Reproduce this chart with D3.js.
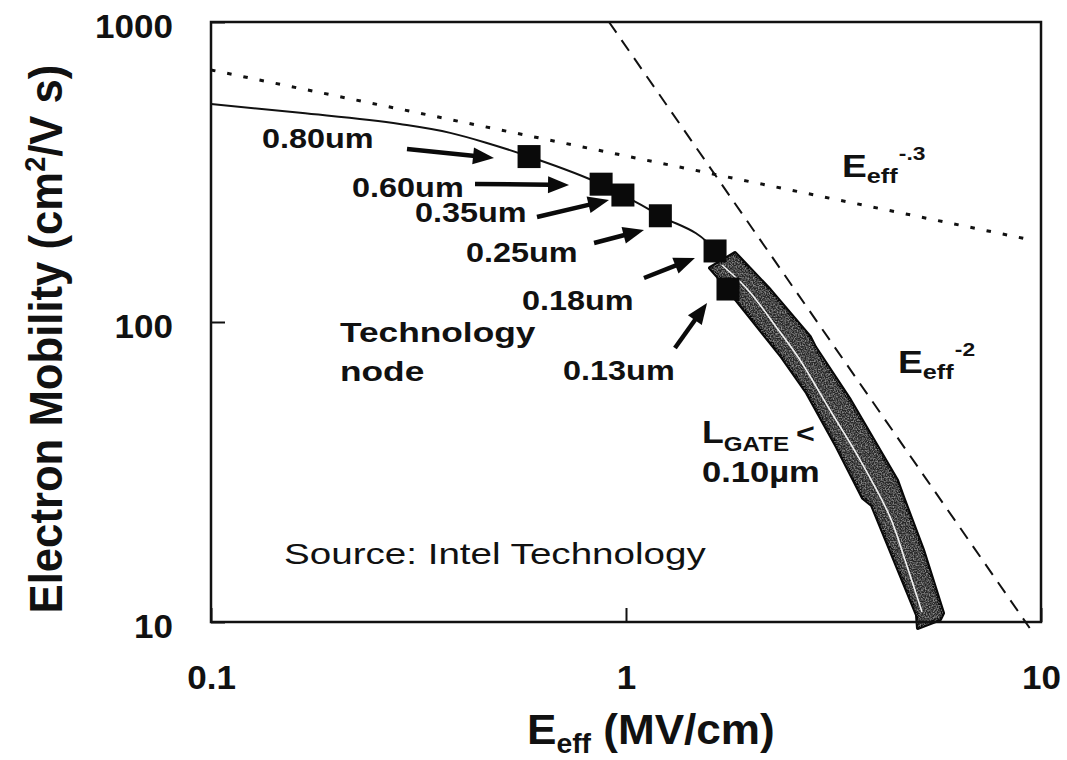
<!DOCTYPE html>
<html>
<head>
<meta charset="utf-8">
<script src="https://cdn.jsdelivr.net/npm/d3@7"></script>
<style>
  html, body { margin: 0; padding: 0; background: #fff; }
  svg { display: block; }
  text { font-family: "Liberation Sans", Arial, Helvetica, sans-serif; fill: #111; }
</style>
</head>
<body>
<svg id="chart" width="1067" height="760">
  <defs>
    <!-- light speckle used to texture the dark L_GATE band -->
    <filter id="speckle" x="0" y="0" width="100%" height="100%">
      <feTurbulence type="fractalNoise" baseFrequency="0.75" numOctaves="1" seed="7" result="noise"/>
      <feColorMatrix in="noise" type="matrix"
        values="0 0 0 0 1  0 0 0 0 1  0 0 0 0 1  3.2 0 0 0 -1.25" result="spots"/>
      <feComposite in="spots" in2="SourceAlpha" operator="in"/>
    </filter>
  </defs>
</svg>
<script>
// ---- Technology nodes (effective field in MV/cm, electron mobility in cm²/V·s)
const nodeLabels   = ["0.80um", "0.60um", "0.35um", "0.25um", "0.18um", "0.13um"];
const nodeField    = [0.584, 0.871, 0.983, 1.21, 1.639, 1.761];
const nodeMobility = [356, 288, 265, 226, 172.5, 128.8];

// where each node label sits (start of text, baseline)
const labelField    = [0.1327, 0.2187, 0.3101, 0.4116, 0.5615, 0.7052];
const labelMobility = [380, 261, 215.4, 158.5, 109.6, 64.1];

// arrows from each label toward its node
const arrowTailField    = [0.2967, 0.4327, 0.6103, 0.8375, 1.105, 1.312];
const arrowTailMobility = [377.3, 288.4, 223.9, 183.4, 140.2, 81.9];
const arrowHeadField    = [0.4808, 0.7290, 0.910, 1.105, 1.466, 1.568];
const arrowHeadMobility = [352.1, 286.2, 255.1, 202.6, 163.5, 115.7];

// measured mobility curve through the nodes
const curveField    = [0.1, 0.164, 0.285, 0.377, 0.46, 0.584, 0.871, 0.983, 1.21, 1.639, 1.70];
const curveMobility = [533, 498, 457, 427, 396, 356, 288, 265, 226, 172.5, 160];

// phonon-limited asymptote (~E^-0.3) and surface-roughness asymptote (~E^-2)
const phononField    = [0.1, 9.5];
const phononMobility = [692, 187.6];
const roughField     = [0.91, 9.39];
const roughMobility  = [1000, 9.55];

// L_GATE < 0.10 µm band: upper (right) edge and lower (left) edge, top to bottom
const bandUpperField    = [1.831, 2.223, 2.776, 2.854, 3.465, 4.498, 4.651, 5.196, 5.807, 5.71, 5.053];
const bandUpperMobility = [169.8, 127.9, 89.1, 82.5, 55.0, 29.7, 26.1, 17.4, 10.7, 10.2, 9.55];
const bandLowerField    = [1.594, 1.666, 1.99, 2.376, 2.731, 3.224, 3.725, 3.915, 5.025];
const bandLowerMobility = [151.4, 141.3, 103.9, 76.4, 58.0, 38.3, 25.9, 24.5, 10.55];
// light trace running inside the band
const bandCoreField    = [1.703, 1.968, 2.33, 2.626, 3.101, 3.664, 4.327, 4.702, 5.168];
const bandCoreMobility = [154.9, 127.9, 94.0, 74.7, 50.9, 34.7, 22.4, 16.1, 10.8];

// axis ticks
const xMajorTicks = [0.1, 1, 10];
const xTickLabels = ["0.1", "1", "10"];
const yMajorTicks = [10, 100, 1000];
const yTickLabels = ["10", "100", "1000"];

// ---------------------------------------------------------------------------
const svg = d3.select("#chart");
const x = d3.scaleLog().domain([0.1, 10]).range([211, 1041]);
const y = d3.scaleLog().domain([10, 1000]).range([622, 22]);

const pts = (fs, ms) => fs.map((f, i) => [x(f), y(ms[i])]);
const line = d3.line();

// stretch text horizontally (the figure's lettering is wide)
function widen(sel, k) {
  sel.each(function () {
    const n = this.getComputedTextLength();
    d3.select(this).attr("textLength", n * k).attr("lengthAdjust", "spacingAndGlyphs");
  });
  return sel;
}

// ---- asymptotes
svg.append("path")
  .attr("d", line(pts(phononField, phononMobility)))
  .attr("fill", "none").attr("stroke", "#111").attr("stroke-width", 3)
  .attr("stroke-dasharray", "4.5 12");

svg.append("path")
  .attr("d", line(pts(roughField, roughMobility)))
  .attr("fill", "none").attr("stroke", "#111").attr("stroke-width", 2)
  .attr("stroke-dasharray", "13 9");

// ---- L_GATE band
const bandPoly = pts(bandUpperField, bandUpperMobility)
  .concat(pts(bandLowerField, bandLowerMobility).reverse());
const bandPath = line(bandPoly) + "Z";
svg.append("path")
  .attr("d", bandPath)
  .attr("fill", "#262626").attr("stroke", "#080808").attr("stroke-width", 4)
  .attr("stroke-linejoin", "round");
svg.append("path")
  .attr("d", bandPath)
  .attr("fill", "#fff").attr("opacity", 0.45).attr("filter", "url(#speckle)");
svg.append("path")
  .attr("d", d3.line().curve(d3.curveCatmullRom)(pts(bandCoreField, bandCoreMobility)))
  .attr("fill", "none").attr("stroke", "#f2f2f2").attr("stroke-width", 1.6);

// ---- measured curve
svg.append("path")
  .attr("d", d3.line().curve(d3.curveMonotoneX)(pts(curveField, curveMobility)))
  .attr("fill", "none").attr("stroke", "#111").attr("stroke-width", 2);

// ---- node markers
const sq = 23;
svg.append("g").selectAll("rect")
  .data(nodeField.map((f, i) => [x(f), y(nodeMobility[i])]))
  .join("rect")
  .attr("x", d => d[0] - sq / 2).attr("y", d => d[1] - sq / 2)
  .attr("width", sq).attr("height", sq).attr("fill", "#0a0a0a");

// ---- arrows
const arrows = svg.append("g");
arrowTailField.forEach((f, i) => {
  const [x0, y0] = [x(f), y(arrowTailMobility[i])];
  const [x1, y1] = [x(arrowHeadField[i]), y(arrowHeadMobility[i])];
  const a = Math.atan2(y1 - y0, x1 - x0);
  const L = 21, hw = 8.5;
  const bx = x1 - L * Math.cos(a), by = y1 - L * Math.sin(a);
  arrows.append("line")
    .attr("x1", x0).attr("y1", y0).attr("x2", bx + 2 * Math.cos(a)).attr("y2", by + 2 * Math.sin(a))
    .attr("stroke", "#0a0a0a").attr("stroke-width", 4.5);
  arrows.append("path")
    .attr("d", `M${x1},${y1}L${bx - hw * Math.sin(a)},${by + hw * Math.cos(a)}L${bx + hw * Math.sin(a)},${by - hw * Math.cos(a)}Z`)
    .attr("fill", "#0a0a0a");
});

// ---- node labels
const labels = svg.append("g").attr("font-size", 27).attr("font-weight", "bold");
nodeLabels.forEach((t, i) => {
  labels.append("text").attr("x", x(labelField[i])).attr("y", y(labelMobility[i])).text(t);
});
widen(labels.selectAll("text"), 1.2);

const tech = svg.append("g").attr("font-size", 28).attr("font-weight", "bold");
tech.append("text").attr("x", x(0.2046)).attr("y", y(85.8)).text("Technology");
tech.append("text").attr("x", x(0.2046)).attr("y", y(63.6)).text("node");
widen(tech.selectAll("text"), 1.26);

widen(svg.append("text")
  .attr("x", x(0.150)).attr("y", y(15.6))
  .attr("font-size", 29).text("Source: Intel Technology"), 1.33);

// E_eff^-.3 and E_eff^-2
function effLabel(fx, my, sup) {
  const g = svg.append("g")
    .attr("transform", `translate(${x(fx)},${y(my)}) scale(1.2,1)`)
    .attr("font-weight", "bold");
  const t = g.append("text");
  t.append("tspan").attr("font-size", 31).text("E");
  t.append("tspan").attr("font-size", 21).attr("dy", 6).text("eff");
  t.append("tspan").attr("font-size", 19).attr("dy", -23).attr("dx", 1).text(sup);
}
effLabel(3.315, 304.3, "-.3");
effLabel(4.523, 67.6, "-2");

// L_GATE < 0.10 µm
{
  const g = svg.append("g")
    .attr("transform", `translate(${x(1.525)},${y(39.5)}) scale(1.15,1)`)
    .attr("font-weight", "bold");
  const t = g.append("text");
  t.append("tspan").attr("font-size", 31).text("L");
  t.append("tspan").attr("font-size", 21).attr("dy", 8).text("GATE");
  t.append("tspan").attr("font-size", 28).attr("dy", -8).attr("dx", 6).text("<");
  g.append("text").attr("y", y(29.3) - y(39.5)).attr("font-size", 30).text("0.10µm");
}

// ---- axes
const gx = svg.append("g").attr("transform", "translate(0,622)");
gx.call(d3.axisBottom(x).tickValues(x.ticks()).tickSize(-10).tickFormat(""));
gx.call(d3.axisBottom(x).tickValues(xMajorTicks).tickSize(-14).tickPadding(43)
  .tickFormat((d, i) => xTickLabels[i]));
gx.select(".domain").remove();

const gy = svg.append("g").attr("transform", "translate(211,0)");
gy.call(d3.axisLeft(y).tickValues(y.ticks()).tickSize(-10).tickFormat(""));
gy.call(d3.axisLeft(y).tickValues(yMajorTicks).tickSize(-14).tickPadding(38)
  .tickFormat((d, i) => yTickLabels[i]));
gy.select(".domain").remove();

svg.selectAll(".tick line").attr("stroke", "#111").attr("stroke-width", 2);
svg.selectAll(".tick text")
  .attr("font-family", "Liberation Sans, Arial, sans-serif")
  .attr("font-size", 34).attr("font-weight", "bold").attr("fill", "#111");
gy.selectAll(".tick text").attr("dy", "0.47em");
widen(svg.selectAll(".tick text"), 1.03);

// frame
svg.append("rect").attr("x", 211).attr("y", 22).attr("width", 830).attr("height", 600)
  .attr("fill", "none").attr("stroke", "#111").attr("stroke-width", 2.5);

// ---- axis titles
{
  const g = svg.append("g").attr("transform", "translate(527,744) scale(1.05,1)").attr("font-weight", "bold");
  const t = g.append("text").attr("font-size", 42);
  t.append("tspan").text("E");
  t.append("tspan").attr("font-size", 27).attr("dy", 9).text("eff");
  t.append("tspan").attr("dy", -9).text(" (MV/cm)");
}
{
  const t = svg.append("text")
    .attr("transform", "translate(62,339) rotate(-90) scale(1,1.12)")
    .attr("text-anchor", "middle").attr("font-size", 42).attr("font-weight", "bold");
  t.append("tspan").text("Electron Mobility (cm");
  t.append("tspan").attr("font-size", 26).attr("dy", -15).text("2");
  t.append("tspan").attr("dy", 15).text("/V s)");
  widen(t, 1.04);
}
</script>
</body>
</html>
